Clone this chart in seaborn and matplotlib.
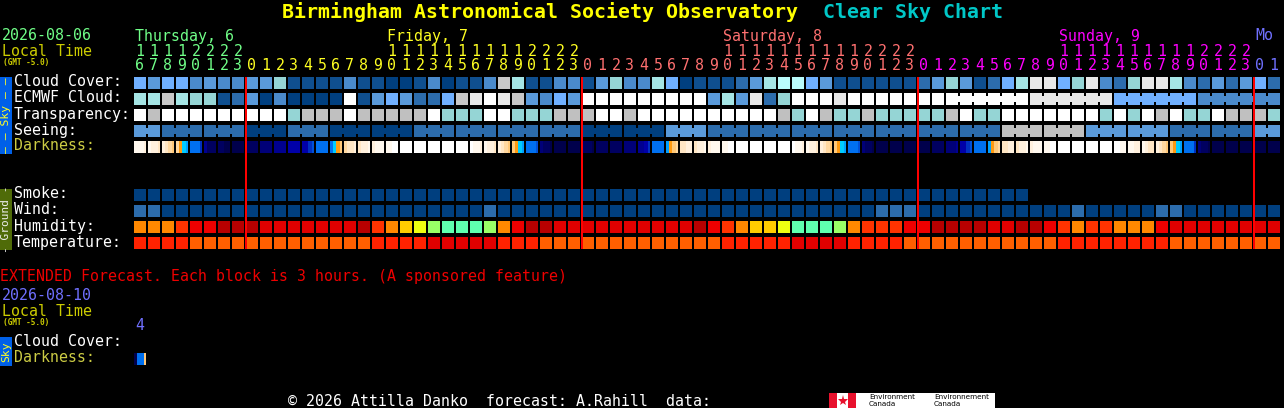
import numpy as np
import matplotlib
matplotlib.use('Agg')
import matplotlib.pyplot as plt
from matplotlib.colors import ListedColormap
from matplotlib.patches import Rectangle
import seaborn as sns

W, H = 1284, 408
MONO = 'DejaVu Sans Mono'

HOURS = [16, 17, 18, 19, 20, 21, 22, 23,
         0, 1, 2, 3, 4, 5, 6, 7, 8, 9, 10, 11, 12, 13, 14, 15, 16, 17, 18, 19, 20, 21, 22, 23,
         0, 1, 2, 3, 4, 5, 6, 7, 8, 9, 10, 11, 12, 13, 14, 15, 16, 17, 18, 19, 20, 21, 22, 23,
         0, 1, 2, 3, 4, 5, 6, 7, 8, 9, 10, 11, 12, 13, 14, 15, 16, 17, 18, 19, 20, 21, 22, 23,
         0, 1]
DAY_COLORS = ['#70ff88', '#ffff22', '#ff7070', '#ff00ff', '#7070ff']
DAY_LABELS = ['Thursday, 6', 'Friday, 7', 'Saturday, 8', 'Sunday, 9', 'Mo']
DAY_LABEL_COLS = [0, 18, 42, 66, 80]

CLOUD_COLORS = ['#003F7F', '#0F4F8F', '#2C6CAC', '#4A8ACB', '#5A9ADA', '#70B0FF',
                '#95D5D5', '#A5E5E5', '#B9FCFC', '#C8C8C8', '#E8E8E8', '#FFFFFF']
TRANS_COLORS = ['#95D5D5', '#C0C0C0', '#FFFFFF']
SEEING_COLORS = ['#003F7F', '#2C6CAC', '#5A9ADA', '#C0C0C0']
WIND_COLORS = ['#003F7F', '#2C6CAC']
HUMIDITY_COLORS = ['#B80000', '#E00000', '#EE0000', '#FF3300', '#FF8800',
                   '#FFCC00', '#EEFF11', '#99FF66', '#5FFFAF']
TEMP_COLORS = ['#E00000', '#FF2200', '#FF5F00']
DARK_COLORS = ['#FFFFFF', '#FFF8EE', '#FFF0DD', '#FFE6C4', '#FFD8A0', '#FFC878',
               '#FF9A10', '#FFB000', '#00CCFF', '#00A0FF', '#0070F0', '#0050D8',
               '#0030C0', '#0000A8', '#000090', '#000078', '#000060', '#00004C']

CLOUD = [5, 4, 5, 5, 3, 4, 3, 3, 4, 4,
         6, 1, 1, 1, 1, 3, 1, 1, 0, 0,
         1, 3, 0, 1, 1, 3, 9, 7, 1, 1,
         3, 3, 1, 4, 6, 3, 3, 7, 5, 0,
         1, 1, 1, 2, 4, 7, 8, 8, 5, 4,
         1, 1, 1, 1, 1, 1, 2, 4, 6, 4,
         1, 2, 5, 7, 10, 10, 5, 6, 10, 3,
         2, 6, 10, 10, 7, 3, 2, 4, 2, 4,
         5, 2]
ECMWF = [7, 7, 9, 7, 6, 6, 1, 2, 4, 0,
         3, 0, 0, 0, 0, 11, 1, 4, 5, 4,
         2, 2, 5, 9, 10, 11, 10, 9, 4, 3,
         5, 4, 11, 11, 11, 11, 11, 11, 11, 11,
         11, 4, 7, 4, 10, 2, 6, 11, 11, 11,
         10, 11, 11, 11, 11, 11, 11, 11, 11, 11,
         11, 11, 11, 11, 10, 10, 10, 10, 10, 10,
         5, 5, 5, 5, 5, 5, 3, 3, 3, 3,
         3, 3]
TRANSPARENCY = [2, 1, 2, 2, 2, 2, 2, 2, 2, 2,
                2, 0, 1, 1, 1, 2, 1, 1, 1, 1,
                1, 2, 0, 0, 0, 2, 2, 0, 0, 0,
                1, 1, 1, 2, 2, 1, 2, 2, 2, 2,
                2, 2, 2, 2, 2, 2, 1, 0, 2, 1,
                0, 0, 1, 0, 0, 0, 0, 0, 1, 2,
                0, 0, 2, 2, 2, 2, 2, 2, 2, 0,
                2, 0, 2, 1, 2, 0, 0, 2, 1, 1,
                1, 0]
SEEING = [2, 2, 1, 1, 1, 1, 1, 1, 0, 0,
          0, 1, 1, 1, 0, 0, 0, 0, 0, 0,
          1, 1, 1, 1, 1, 1, 1, 1, 1, 1,
          1, 1, 0, 0, 0, 0, 0, 0, 2, 2,
          2, 1, 1, 1, 1, 1, 1, 1, 1, 1,
          1, 1, 1, 1, 1, 1, 1, 1, 1, 1,
          1, 1, 3, 3, 3, 3, 3, 3, 2, 2,
          2, 2, 2, 2, 1, 1, 1, 1, 1, 1,
          2, 2]
# four samples per hour, the colour changes inside a block around dusk and dawn
DARKNESS = [1, 1, 1, 2, 1, 2, 2, 3, 2, 3, 4, 5, 4, 6, 8, 9, 10, 10, 10, 12,
            14, 16, 16, 16, 16, 16, 17, 17, 17, 17, 17, 17, 16, 16, 16, 16, 15, 15, 15, 15,
            14, 14, 14, 14, 13, 13, 13, 13, 13, 13, 12, 11, 10, 10, 10, 10, 10, 8, 6, 5,
            4, 3, 3, 2, 3, 2, 2, 1, 2, 1, 1, 1, 1, 1, 0, 0, 0, 0, 0, 0,
            0, 0, 0, 0, 0, 0, 0, 0, 0, 0, 0, 0, 0, 0, 0, 0, 0, 1, 1, 2,
            1, 2, 2, 3, 2, 3, 4, 5, 5, 6, 8, 9, 10, 10, 10, 11, 15, 16, 16, 17,
            17, 17, 17, 17, 17, 17, 17, 17, 16, 16, 16, 17, 16, 16, 16, 16, 16, 16, 16, 16,
            15, 15, 15, 15, 14, 14, 13, 12, 10, 10, 10, 10, 9, 6, 5, 4, 3, 3, 2, 2,
            3, 2, 2, 1, 2, 1, 1, 1, 1, 1, 0, 0, 0, 0, 0, 0, 0, 0, 0, 0,
            0, 0, 0, 0, 0, 0, 0, 0, 0, 1, 1, 2, 1, 2, 2, 3, 2, 3, 4, 5,
            5, 6, 8, 9, 10, 10, 10, 11, 15, 16, 16, 17, 17, 17, 17, 17, 17, 17, 17, 17,
            17, 17, 17, 17, 17, 17, 17, 17, 16, 16, 16, 16, 15, 15, 15, 14, 13, 13, 12, 11,
            10, 10, 10, 10, 9, 6, 5, 4, 3, 3, 2, 2, 3, 2, 2, 1, 2, 1, 1, 1,
            1, 1, 0, 0, 0, 0, 0, 0, 0, 0, 0, 0, 0, 0, 0, 0, 0, 0, 0, 0,
            0, 0, 1, 1, 1, 1, 2, 2, 1, 2, 3, 3, 2, 3, 4, 5, 5, 6, 8, 9,
            10, 10, 10, 12, 15, 16, 16, 17, 17, 17, 17, 17, 17, 17, 17, 17, 17, 17, 17, 17,
            17, 17, 17, 17, 17, 17, 17, 17]
SMOKE = [0, 0, 0, 0, 0, 0, 0, 0, 0, 0,
         0, 0, 0, 0, 0, 0, 0, 0, 0, 0,
         0, 0, 0, 0, 0, 0, 0, 0, 0, 0,
         0, 0, 0, 0, 0, 0, 0, 0, 0, 0,
         0, 0, 0, 0, 0, 0, 0, 0, 0, 0,
         0, 0, 0, 0, 0, 0, 0, 0, 0, 0,
         0, 0, 0, 0, np.nan, np.nan, np.nan, np.nan, np.nan, np.nan,
         np.nan, np.nan, np.nan, np.nan, np.nan, np.nan, np.nan, np.nan, np.nan, np.nan,
         np.nan, np.nan]
WIND = [1, 1, 0, 0, 0, 0, 0, 0, 0, 0,
        0, 0, 0, 0, 0, 0, 0, 0, 0, 0,
        0, 0, 0, 0, 0, 1, 0, 0, 0, 0,
        0, 0, 0, 0, 0, 0, 0, 0, 0, 0,
        0, 0, 0, 0, 0, 0, 0, 0, 0, 0,
        0, 0, 0, 1, 1, 1, 0, 0, 0, 0,
        0, 0, 0, 0, 0, 0, 0, 1, 0, 0,
        0, 0, 0, 1, 1, 0, 0, 0, 0, 0,
        0, 0]
HUMIDITY = [4, 4, 4, 3, 2, 2, 0, 0, 0, 1,
            1, 1, 1, 1, 1, 1, 0, 3, 4, 5,
            6, 7, 8, 8, 8, 7, 4, 2, 0, 0,
            1, 1, 1, 1, 1, 1, 1, 1, 1, 1,
            0, 2, 3, 4, 5, 5, 6, 8, 8, 8,
            7, 4, 3, 3, 3, 2, 2, 0, 0, 0,
            0, 1, 1, 0, 0, 2, 3, 4, 3, 3,
            4, 4, 4, 2, 1, 1, 1, 1, 1, 1,
            1, 1]
TEMPERATURE = [1, 1, 1, 1, 2, 2, 2, 2, 2, 2,
               2, 2, 2, 2, 2, 2, 2, 1, 1, 1,
               1, 0, 0, 0, 0, 0, 1, 1, 1, 2,
               2, 2, 2, 2, 2, 2, 2, 2, 2, 2,
               2, 2, 1, 1, 1, 1, 1, 0, 0, 0,
               0, 1, 1, 1, 1, 2, 2, 2, 2, 2,
               2, 2, 2, 2, 2, 2, 1, 1, 1, 1,
               1, 1, 1, 1, 2, 2, 2, 2, 2, 2,
               2, 2]
EXT_DARKNESS = [17, 10, 10, 5]


def px2pt(px):
    return px * 72 / 100


def draw_row(fig, values, colors, y_top, cols=82, per_cell=1, merged_from=None, group=1, group_start=0):
    """Draw one forecast row as a single row heatmap placed by pixel."""
    left = 133
    ax = fig.add_axes([left / W, 1 - (y_top + 12) / H, cols * 14 / W, 12 / H])
    data = np.array(values, dtype=float).reshape(1, -1)
    sns.heatmap(data, ax=ax, cmap=ListedColormap(colors), vmin=-0.5, vmax=len(colors) - 0.5,
                cbar=False, xticklabels=False, yticklabels=False, linewidths=0)
    ax.set_facecolor('black')
    lw = px2pt(2)
    for c in range(cols + 1):
        x = c * per_cell
        joined = (merged_from is not None and c > merged_from and c < cols
                  and (c - group_start) % group != 0)
        if joined:
            # blocks of one forecast run stay connected, only a notch is left
            ax.vlines(x, 0, 0.25, color='black', lw=lw, capstyle='butt', snap=False)
            ax.vlines(x, 0.75, 1, color='black', lw=lw, capstyle='butt', snap=False)
        else:
            ax.vlines(x, 0, 1, color='black', lw=lw, capstyle='butt', snap=False)
    return ax


def label(ax, x, y, s, color='white', size=10.7, **kw):
    kw.setdefault('va', 'center')
    kw.setdefault('ha', 'left')
    kw.setdefault('family', MONO)
    ax.text(x, y + 1, s, color=color, fontsize=size, **kw)


sns.set_theme(style='dark')
plt.rcParams['font.family'] = [MONO, 'DejaVu Sans']
fig = plt.figure(figsize=(W / 100, H / 100), dpi=100, facecolor='black')

draw_row(fig, CLOUD, CLOUD_COLORS, 77)
draw_row(fig, ECMWF, CLOUD_COLORS, 93, merged_from=58, group=6, group_start=58)
draw_row(fig, TRANSPARENCY, TRANS_COLORS, 109)
draw_row(fig, SEEING, SEEING_COLORS, 125, merged_from=0, group=3, group_start=2)
draw_row(fig, DARKNESS, DARK_COLORS, 141, per_cell=4)
draw_row(fig, SMOKE, WIND_COLORS, 189)
draw_row(fig, WIND, WIND_COLORS, 205)
draw_row(fig, HUMIDITY, HUMIDITY_COLORS, 221)
draw_row(fig, TEMPERATURE, TEMP_COLORS, 237)
draw_row(fig, EXT_DARKNESS, DARK_COLORS, 353, cols=1, per_cell=4)

# everything else sits on one overlay in image pixels
top = fig.add_axes([0, 0, 1, 1], facecolor='none')
top.set_xlim(0, W)
top.set_ylim(H, 0)
top.axis('off')

# title
label(top, 282, 11, 'Birmingham Astronomical Society Observatory', color='#ffff00', size=14.35, fontweight='bold')
label(top, 823, 11, 'Clear Sky Chart', color='#00c8c8', size=14.35, fontweight='bold')

# header on the left
label(top, 2, 34, '2026-08-06', color='#70ff88')
label(top, 2, 50, 'Local Time', color='#cccc00')
label(top, 3, 61, '(GMT -5.0)', color='#cccc00', size=5.6, fontweight='bold')

# hour scale
day = 0
for c, hour in enumerate(HOURS):
    if c > 0 and hour == 0:
        day += 1
        top.plot([133 + 14 * c + 1] * 2, [77, 249], color='#ff0000', lw=px2pt(2),
                 solid_capstyle='butt', zorder=5)
    x = 140 + 14 * c
    if hour >= 10:
        label(top, x, 50, str(hour // 10), color=DAY_COLORS[day], ha='center')
    label(top, x, 64, str(hour % 10), color=DAY_COLORS[day], ha='center')

for name, col, color in zip(DAY_LABELS, DAY_LABEL_COLS, DAY_COLORS):
    label(top, 135 + 14 * col, 35, name, color=color)

# row names
for y, name, color in [(81, 'Cloud Cover:', 'white'), (97, 'ECMWF Cloud:', 'white'),
                       (113.5, 'Transparency:', 'white'), (129.5, 'Seeing:', 'white'),
                       (144.5, 'Darkness:', '#cccc44'), (192.7, 'Smoke:', 'white'),
                       (209, 'Wind:', 'white'), (225.5, 'Humidity:', 'white'),
                       (241.3, 'Temperature:', 'white')]:
    label(top, 14, y, name, color=color)

# side bands
top.add_patch(Rectangle((0, 77), 12, 77, color='#0060e8', lw=0))
top.add_patch(Rectangle((0, 189), 12, 61, color='#4f6b08', lw=0))
top.add_patch(Rectangle((0, 337), 12, 29, color='#0060e8', lw=0))
label(top, 6, 114.5, '\u2013 \u2013 Sky \u2013 \u2013', color='#ffff22', size=8.2, rotation=90, ha='center')
label(top, 6, 218.5, '- Ground -', color='#eeeeee', size=8, rotation=90, ha='center')
label(top, 6, 351, 'Sky', color='#ffff22', size=8.2, rotation=90, ha='center')

# extended forecast
label(top, 0, 275.5, 'EXTENDED Forecast. Each block is 3 hours. (A sponsored feature)', color='#ee0000')
label(top, 2, 294.5, '2026-08-10', color='#7070ff')
label(top, 2, 310, 'Local Time', color='#cccc00')
label(top, 3, 321, '(GMT -5.0)', color='#cccc00', size=5.6, fontweight='bold')
label(top, 140, 324.5, '4', color='#7070ff', ha='center')
label(top, 14, 340.5, 'Cloud Cover:')
label(top, 14, 356.5, 'Darkness:', color='#cccc44')

# footer and the logo strip
label(top, 288, 400, '\u00a9 2026 Attilla Danko  forecast: A.Rahill  data:')
top.add_patch(Rectangle((829, 393), 166, 15, color='white', lw=0))
top.add_patch(Rectangle((829, 393), 8, 15, color='#e8112d', lw=0))
top.add_patch(Rectangle((848, 393), 8, 15, color='#e8112d', lw=0))
top.plot([842.5], [400.5], marker='*', ms=8, color='#e8112d', mew=0)
label(top, 869, 396, 'Environment', color='black', size=5.2, family='DejaVu Sans')
label(top, 869, 403, 'Canada', color='black', size=5.2, family='DejaVu Sans')
label(top, 934, 396, 'Environnement', color='black', size=5.2, family='DejaVu Sans')
label(top, 934, 403, 'Canada', color='black', size=5.2, family='DejaVu Sans')

fig.savefig('out.png', dpi=100, facecolor='black')
